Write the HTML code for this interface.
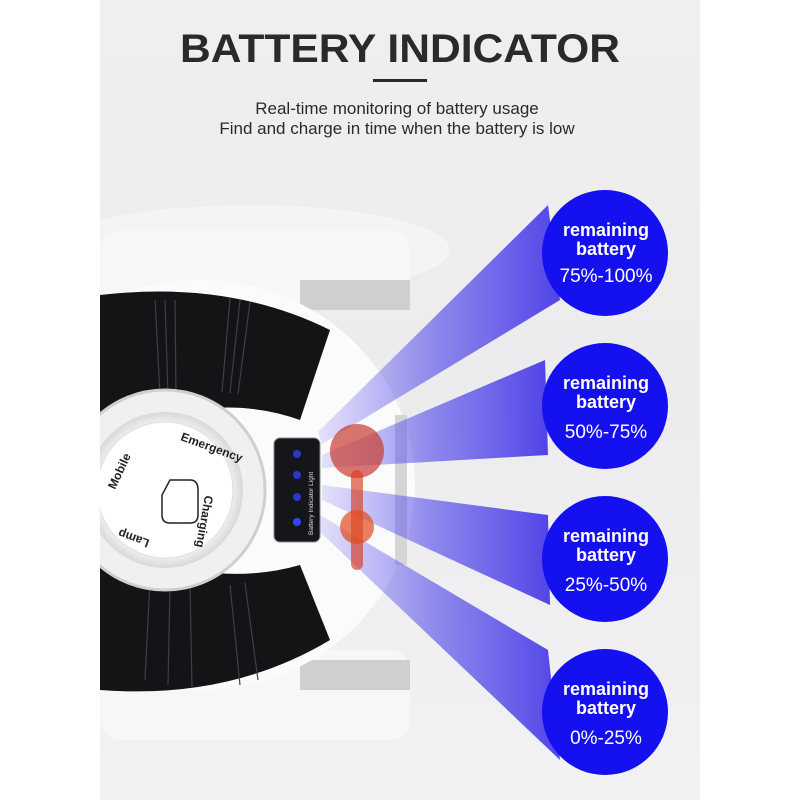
<!DOCTYPE html>
<html><head><meta charset="utf-8"><style>
html,body{margin:0;padding:0;background:#fff;}
svg{display:block;}
</style></head><body>
<svg width="800" height="800" viewBox="0 0 800 800" xmlns="http://www.w3.org/2000/svg">
<defs>
<linearGradient id="bg" x1="0" y1="0" x2="0" y2="1">
<stop offset="0" stop-color="#efefef"/><stop offset="0.5" stop-color="#ececee"/><stop offset="1" stop-color="#f2f2f4"/>
</linearGradient>
<linearGradient id="beam" x1="0" y1="0" x2="1" y2="0">
<stop offset="0" stop-color="#5a50f0" stop-opacity="0.15"/>
<stop offset="0.5" stop-color="#4a40ea" stop-opacity="0.6"/>
<stop offset="1" stop-color="#3526e6" stop-opacity="0.85"/>
</linearGradient>
<radialGradient id="hub" cx="0.5" cy="0.5" r="0.5">
<stop offset="0.8" stop-color="#fafafa"/><stop offset="1" stop-color="#d8d8d8"/>
</radialGradient>
<clipPath id="img"><rect x="100" y="0" width="600" height="800"/></clipPath>
</defs>
<rect x="0" y="0" width="800" height="800" fill="#fff"/>
<rect x="100" y="0" width="600" height="800" fill="url(#bg)"/>
<g clip-path="url(#img)">
<ellipse cx="250" cy="250" rx="200" ry="45" fill="#f4f4f5"/>
<rect x="100" y="230" width="310" height="80" rx="20" fill="#f7f7f7"/>
<rect x="100" y="650" width="310" height="90" rx="20" fill="#f7f7f7"/>
<rect x="300" y="280" width="110" height="30" fill="#cfcfd2"/>
<rect x="300" y="660" width="110" height="30" fill="#cfcfd2"/>
<ellipse cx="200" cy="485" rx="215" ry="205" fill="#fbfbfb"/>
<rect x="395" y="415" width="12" height="150" fill="#d5d5d8"/>
<path d="M100 295 Q230 280 330 330 L300 420 Q230 395 150 420 L100 440 Z" fill="#141416"/>
<path d="M100 540 L150 560 Q230 585 300 565 L330 640 Q230 700 100 690 Z" fill="#141416"/>
<g stroke="#3a4050" stroke-width="1.2">
<line x1="155" y1="300" x2="160" y2="395"/><line x1="165" y1="300" x2="168" y2="395"/><line x1="175" y1="300" x2="176" y2="395"/>
<line x1="230" y1="298" x2="222" y2="392"/><line x1="240" y1="300" x2="230" y2="393"/><line x1="250" y1="302" x2="238" y2="394"/>
<line x1="150" y1="580" x2="145" y2="680"/><line x1="170" y1="585" x2="168" y2="685"/><line x1="190" y1="585" x2="192" y2="688"/>
<line x1="230" y1="585" x2="240" y2="685"/><line x1="245" y1="583" x2="258" y2="680"/>
</g>
<circle cx="165" cy="490" r="100" fill="#f0f0f0" stroke="#cfcfcf" stroke-width="3"/>
<circle cx="165" cy="490" r="78" fill="url(#hub)"/>
<circle cx="165" cy="490" r="68" fill="#fff" stroke="#ddd"/>
<text x="180" y="440" font-family="Liberation Sans,sans-serif" font-weight="bold" font-size="12" fill="#222" transform="rotate(20 180 440)">Emergency</text>
<text x="115" y="490" font-family="Liberation Sans,sans-serif" font-weight="bold" font-size="12" fill="#222" transform="rotate(-65 115 490)">Mobile</text>
<text x="205" y="495" font-family="Liberation Sans,sans-serif" font-weight="bold" font-size="12" fill="#222" transform="rotate(100 205 495)">Charging</text>
<text x="150" y="540" font-family="Liberation Sans,sans-serif" font-weight="bold" font-size="12" fill="#222" transform="rotate(200 150 540)">Lamp</text>
<path d="M170 480 h20 q8 0 8 10 v25 q0 8 -8 8 h-20 q-8 0 -8 -8 v-20 z" fill="none" stroke="#222" stroke-width="1.5"/>
<polygon points="318,432 548,205 560,300 322,444" fill="url(#beam)"/>
<polygon points="322,455 545,360 548,455 322,468" fill="url(#beam)"/>
<polygon points="322,485 548,515 550,605 322,500" fill="url(#beam)"/>
<polygon points="320,515 548,650 560,760 318,530" fill="url(#beam)"/>
<rect x="274" y="438" width="46" height="104" rx="6" fill="#15161a" stroke="#888" stroke-width="1"/>
<circle cx="297" cy="454" r="4" fill="#2a37c8"/>
<circle cx="297" cy="475" r="4" fill="#2a37c8"/>
<circle cx="297" cy="497" r="4" fill="#2a37c8"/>
<circle cx="297" cy="522" r="4" fill="#3346ff"/>
<text x="313" y="535" font-family="Liberation Sans,sans-serif" font-size="6.5" fill="#ddd" transform="rotate(-90 313 535)">Battery Indicator Light</text>
<circle cx="357" cy="451" r="27" fill="#c83a30" fill-opacity="0.7"/>
<rect x="351" y="470" width="12" height="100" rx="6" fill="#d83a20" fill-opacity="0.65"/>
<circle cx="357" cy="527" r="17" fill="#e04a20" fill-opacity="0.7"/>
<g font-family="Liberation Sans,sans-serif" text-anchor="middle" fill="#fff">
<circle cx="605" cy="253" r="63" fill="#1410f0"/>
<text x="606" y="236" font-weight="bold" font-size="18">remaining</text>
<text x="606" y="255" font-weight="bold" font-size="18">battery</text>
<text x="606" y="282" font-size="19">75%-100%</text>
<circle cx="605" cy="406" r="63" fill="#1410f0"/>
<text x="606" y="389" font-weight="bold" font-size="18">remaining</text>
<text x="606" y="408" font-weight="bold" font-size="18">battery</text>
<text x="606" y="438" font-size="19">50%-75%</text>
<circle cx="605" cy="559" r="63" fill="#1410f0"/>
<text x="606" y="542" font-weight="bold" font-size="18">remaining</text>
<text x="606" y="561" font-weight="bold" font-size="18">battery</text>
<text x="606" y="591" font-size="19">25%-50%</text>
<circle cx="605" cy="712" r="63" fill="#1410f0"/>
<text x="606" y="695" font-weight="bold" font-size="18">remaining</text>
<text x="606" y="714" font-weight="bold" font-size="18">battery</text>
<text x="606" y="744" font-size="19">0%-25%</text>
</g>
</g>
<text x="400" y="62" text-anchor="middle" font-family="Liberation Sans,sans-serif" font-weight="bold" font-size="40" fill="#2a2a2a" textLength="440" lengthAdjust="spacingAndGlyphs">BATTERY INDICATOR</text>
<rect x="373" y="79" width="54" height="3" fill="#2a2a2a"/>
<text x="397" y="114" text-anchor="middle" font-family="Liberation Sans,sans-serif" font-size="17" fill="#2a2a2a">Real-time monitoring of battery usage</text>
<text x="397" y="134" text-anchor="middle" font-family="Liberation Sans,sans-serif" font-size="17" fill="#2a2a2a">Find and charge in time when the battery is low</text>
</svg>
</body></html>
